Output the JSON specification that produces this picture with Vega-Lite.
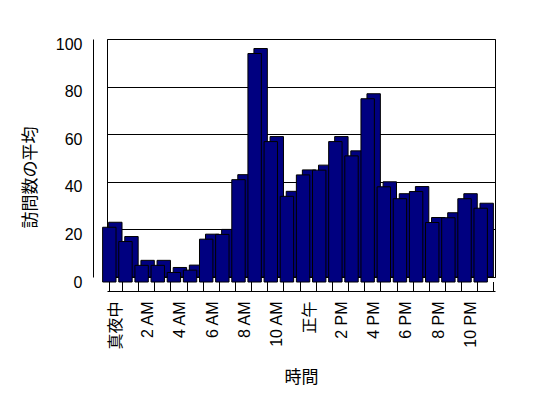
{
  "$schema": "https://vega.github.io/schema/vega-lite/v6.json",
  "width": 388,
  "height": 238,
  "autosize": {"type": "none"},
  "padding": {"left": 107, "top": 39, "right": 53, "bottom": 121},
  "background": "white",
  "config": {"view": {"stroke": "black", "strokeWidth": 1}, "font": "Liberation Sans"},
  "data": {"values": [
    {"hour": "真夜中", "visits": 23},
    {"hour": "1 AM", "visits": 17},
    {"hour": "2 AM", "visits": 7},
    {"hour": "3 AM", "visits": 7},
    {"hour": "4 AM", "visits": 4},
    {"hour": "5 AM", "visits": 5},
    {"hour": "6 AM", "visits": 18},
    {"hour": "7 AM", "visits": 20},
    {"hour": "8 AM", "visits": 43},
    {"hour": "9 AM", "visits": 96},
    {"hour": "10 AM", "visits": 59},
    {"hour": "11 AM", "visits": 36},
    {"hour": "正午", "visits": 45},
    {"hour": "1 PM", "visits": 47},
    {"hour": "2 PM", "visits": 59},
    {"hour": "3 PM", "visits": 53},
    {"hour": "4 PM", "visits": 77},
    {"hour": "5 PM", "visits": 40},
    {"hour": "6 PM", "visits": 35},
    {"hour": "7 PM", "visits": 38},
    {"hour": "8 PM", "visits": 25},
    {"hour": "9 PM", "visits": 27},
    {"hour": "10 PM", "visits": 35},
    {"hour": "11 PM", "visits": 31}
  ]},
  "encoding": {
    "x": {
      "field": "hour", "type": "ordinal", "sort": null,
      "scale": {"paddingInner": 0.17, "paddingOuter": 0.1},
      "axis": {
        "title": "時間",
        "titleFont": "Noto Sans CJK JP", "titleFontSize": 17, "titleFontWeight": "normal", "titleColor": "black",
        "titlePadding": 20,
        "labelAngle": -90,
        "labelFont": "Liberation Sans, Noto Sans CJK JP", "labelFontSize": 16, "labelColor": "black",
        "labelExpr": "indexof(['真夜中','2 AM','4 AM','6 AM','8 AM','10 AM','正午','2 PM','4 PM','6 PM','8 PM','10 PM'], datum.label) >= 0 ? datum.label : ''",
        "labelOverlap": false,
        "offset": 14,
        "domainColor": "black",
        "tickColor": "black",
        "tickBand": "extent",
        "tickOffset": -6,
        "tickSize": -9.5,
        "labelPadding": 19.5
      }
    },
    "y": {
      "field": "visits", "type": "quantitative",
      "scale": {"domain": [0, 100]},
      "axis": {
        "title": "訪問数の平均",
        "titleFont": "Noto Sans CJK JP", "titleFontSize": 17, "titleFontWeight": "normal", "titleColor": "black",
        "titlePadding": 16,
        "titleY": 138,
        "values": [0, 20, 40, 60, 80, 100],
        "grid": true, "gridColor": "black", "gridOpacity": 1,
        "ticks": false,
        "offset": 14,
        "domainColor": "black",
        "labelOffset": 5,
        "labelPadding": 11,
        "labelFont": "Liberation Sans",
        "labelFontSize": 16,
        "labelColor": "black"
      }
    }
  },
  "layer": [
    {"mark": {"type": "bar", "fill": "#000080", "stroke": "black", "strokeWidth": 1}},
    {"mark": {"type": "bar", "fill": "#000080", "stroke": "black", "strokeWidth": 1, "xOffset": -6, "yOffset": 5, "y2Offset": 5}}
  ]
}
